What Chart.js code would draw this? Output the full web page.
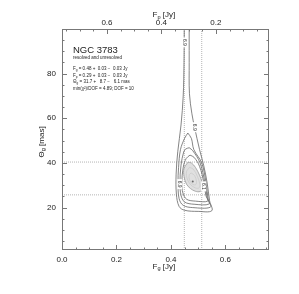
<!DOCTYPE html>
<html>
<head>
<meta charset="utf-8">
<script src="https://cdn.jsdelivr.net/npm/chart.js@4"></script>
<style>
  body { margin: 0; background: #fff; }
  canvas { display: block; }
</style>
</head>
<body>
<canvas id="myChart" width="299" height="294"></canvas>
<script>
// axis ranges and ticks
var fgRange = [0, 0.76];
var thetaRange = [1, 100];
var fpSum = 0.765;              // Fp = fpSum - Fg (top axis)
var fgTicks = [0, 0.2, 0.4, 0.6];
var fpTicks = [0.6, 0.4, 0.2];
var thetaTicks = [20, 40, 60, 80];

// best fit and error box lines
var bestFit = [[0.48, 31.7]];
var fgLines = [0.449, 0.513];
var thetaLines = [40.4, 25.7];

// chi2 contours [Fg, Theta]
var contourA = [[0.449, 106], [0.448, 85], [0.445, 70], [0.437, 57], [0.425, 45], [0.419, 35], [0.42, 26],
  [0.43, 20.5], [0.45, 18.8], [0.5, 18.3], [0.55, 18.6], [0.542, 23], [0.533, 31], [0.52, 39], [0.505, 46],
  [0.487, 55.8], [0.477, 62], [0.468, 71], [0.467, 85], [0.467, 106]];
var contourB = [[0.462, 53.4], [0.475, 51], [0.484, 46], [0.513, 40], [0.529, 31], [0.537, 23.5], [0.545, 20.2],
  [0.48, 20], [0.445, 21], [0.43, 24], [0.426, 31], [0.428, 38], [0.435, 46], [0.45, 51], [0.462, 53.4]];
var contourC = [[0.467, 46.8], [0.48, 45.5], [0.507, 40], [0.525, 31], [0.533, 24.5], [0.54, 21.6],
  [0.485, 21.5], [0.45, 22.5], [0.437, 25.5], [0.433, 31], [0.437, 39], [0.447, 45], [0.455, 46.3], [0.467, 46.8]];
var contourD = [[0.47, 43.5], [0.485, 42.5], [0.505, 38.5], [0.521, 31], [0.528, 25.5], [0.535, 22.9],
  [0.49, 22.9], [0.458, 23.7], [0.444, 26.5], [0.44, 31], [0.445, 38], [0.456, 42], [0.47, 43.5]];
var contourE = [[0.462, 40.3], [0.475, 40], [0.49, 38], [0.505, 34.5], [0.515, 31], [0.516, 28.5],
  [0.507, 27.2], [0.49, 27.3], [0.472, 28.5], [0.457, 30.5], [0.448, 34], [0.448, 37.5], [0.462, 40.3]];
var contourF = [[0.468, 38], [0.482, 37.2], [0.497, 34], [0.506, 30.5], [0.503, 28.8], [0.49, 28.8],
  [0.472, 30.3], [0.46, 32.8], [0.457, 36], [0.468, 38]];
var contourG = [[0.474, 35.5], [0.487, 34.3], [0.494, 31.5], [0.49, 30.2], [0.478, 30.6], [0.468, 32.5],
  [0.467, 34.7], [0.474, 35.5]];

// contour labels [Fg, Theta, text]
var contourLabels = [[0.448, 94, '6.9'], [0.487, 56, '6.9'], [0.432, 30.5, '6.9'], [0.52, 29.5, '6.1']];

var infoTitle = 'NGC 3783';
var infoLines = ['resolved and unresolved', 'F_g = 0.48 +  0.03 \u2212  0.03 Jy', 'F_p = 0.29 +  0.03 \u2212  0.03 Jy',
  '\u0398_g = 31.7 +   8.7 \u2212   6.1 mas', 'min(\u03c7\u00b2)/DOF = 4.89; DOF = 10'];

var FONT = 'Liberation Sans, Arial, sans-serif';

function pts(list) {
  return list.map(function (p) { return { x: p[0], y: p[1] }; });
}
function line(list, color, width, extra) {
  var ds = { data: pts(list), borderColor: color, borderWidth: width, pointRadius: 0, tension: 0.35, fill: false };
  for (var k in extra) ds[k] = extra[k];
  return ds;
}

var datasets = [
  { data: pts(bestFit), pointRadius: 1, pointBackgroundColor: '#666', borderWidth: 0, showLine: false },
  line(contourG, '#c4c4c4', 0.6),
  line(contourF, '#c4c4c4', 0.6),
  line(contourE, '#999', 0.8, { fill: 'shape', backgroundColor: '#e0e0e0' }),
  line(contourD, '#666', 0.8),
  line(contourC, '#666', 0.8),
  line(contourB, '#666', 0.8),
  line(contourA, '#666', 0.8)
];
fgLines.forEach(function (v) {
  datasets.push(line([[v, thetaRange[0]], [v, thetaRange[1]]], '#b4b4b4', 1, { borderDash: [1, 1], tension: 0 }));
});
thetaLines.forEach(function (v) {
  datasets.push(line([[fgRange[0], v], [fgRange[1], v]], '#b4b4b4', 1, { borderDash: [1, 1], tension: 0 }));
});

function subText(ctx, parts, x, y, size) {
  // '_' marks the next character as a subscript
  var cx = x;
  for (var i = 0; i < parts.length; i++) {
    var ch = parts[i];
    if (ch === '_') {
      ctx.font = (size * 0.7) + 'px ' + FONT;
      ctx.fillText(parts[i + 1], cx, y + size * 0.3);
      cx += ctx.measureText(parts[i + 1]).width;
      i++;
      ctx.font = size + 'px ' + FONT;
    } else {
      ctx.fillText(ch, cx, y);
      cx += ctx.measureText(ch).width;
    }
  }
  return cx - x;
}

var framePlugin = {
  id: 'frame',
  afterDraw: function (chart) {
    var ctx = chart.ctx, a = chart.chartArea;
    var xs = chart.scales.x, ys = chart.scales.y, x2 = chart.scales.x2;
    ctx.save();
    ctx.strokeStyle = '#777';
    ctx.lineWidth = 1;
    ctx.strokeRect(a.left + 0.5, a.top + 0.5, a.right - a.left - 1, a.bottom - a.top - 1);

    ctx.beginPath();
    // bottom / top x ticks
    for (var v = 0; v <= fgRange[1] + 1e-9; v += 0.05) {
      var px = Math.round(xs.getPixelForValue(v)) + 0.5;
      var len = (Math.abs(v / 0.2 - Math.round(v / 0.2)) < 1e-6) ? 5 : 2.5;
      ctx.moveTo(px, a.bottom); ctx.lineTo(px, a.bottom - len);
    }
    for (var w = 0.05; w <= fpSum; w += 0.05) {
      var px2 = Math.round(x2.getPixelForValue(w)) + 0.5;
      var len2 = (Math.abs(w / 0.2 - Math.round(w / 0.2)) < 1e-6) ? 5 : 2.5;
      ctx.moveTo(px2, a.top); ctx.lineTo(px2, a.top + len2);
    }
    // y ticks left and right
    for (var t = 5; t < thetaRange[1]; t += 5) {
      var py = Math.round(ys.getPixelForValue(t)) + 0.5;
      var len3 = (t % 20 === 0) ? 5 : 2.5;
      ctx.moveTo(a.left, py); ctx.lineTo(a.left + len3, py);
      ctx.moveTo(a.right, py); ctx.lineTo(a.right - len3, py);
    }
    ctx.stroke();

    ctx.fillStyle = '#222';
    ctx.font = '8px ' + FONT;
    ctx.textAlign = 'center';
    ctx.textBaseline = 'middle';
    fgTicks.forEach(function (v) {
      ctx.fillText(v.toFixed(1), xs.getPixelForValue(v), a.bottom + 9.5);
    });
    fpTicks.forEach(function (v) {
      ctx.fillText(v.toFixed(1), x2.getPixelForValue(v), a.top - 6);
    });
    ctx.textAlign = 'right';
    thetaTicks.forEach(function (v) {
      ctx.fillText(String(v), a.left - 6, ys.getPixelForValue(v));
    });

    // axis titles
    ctx.textAlign = 'left';
    ctx.font = '8px ' + FONT;
    var tw = 30;
    subText(ctx, 'F_g [Jy]', (a.left + a.right) / 2 - tw / 2 + 2, a.bottom + 16.5, 8);
    subText(ctx, 'F_p [Jy]', (a.left + a.right) / 2 - tw / 2 + 2, a.top - 14, 8);
    ctx.save();
    ctx.translate(41.5, (a.top + a.bottom) / 2 + 18);
    ctx.rotate(-Math.PI / 2);
    ctx.font = '8px ' + FONT;
    subText(ctx, '\u0398_g [mas]', 0, 0, 8);
    ctx.restore();

    // info text
    ctx.textBaseline = 'alphabetic';
    ctx.font = '9.5px ' + FONT;
    ctx.fillText(infoTitle, 73, 53);
    var ly = [58.5, 70, 76.5, 83, 89.5];
    infoLines.forEach(function (s, i) {
      ctx.font = '4.5px ' + FONT;
      subText(ctx, s, 73, ly[i], 4.5);
    });

    // contour labels
    ctx.textAlign = 'center';
    ctx.textBaseline = 'middle';
    contourLabels.forEach(function (l) {
      var px = xs.getPixelForValue(l[0]), py = ys.getPixelForValue(l[1]);
      ctx.save();
      ctx.translate(px, py);
      ctx.rotate(Math.PI / 2);
      ctx.fillStyle = '#fff';
      ctx.fillRect(-5, -2.5, 10, 5);
      ctx.fillStyle = '#333';
      ctx.font = '5px ' + FONT;
      ctx.fillText(l[2], 0, 0);
      ctx.restore();
    });
    ctx.restore();
  }
};

new Chart(document.getElementById('myChart').getContext('2d'), {
  type: 'line',
  data: { datasets: datasets },
  options: {
    responsive: false,
    animation: false,
    devicePixelRatio: 1,
    layout: { padding: { left: 62, right: 30, top: 29, bottom: 44 } },
    plugins: { legend: { display: false }, tooltip: { enabled: false } },
    scales: {
      x: { type: 'linear', min: fgRange[0], max: fgRange[1], display: false },
      x2: { type: 'linear', min: fpSum - fgRange[1], max: fpSum - fgRange[0], reverse: true, display: false },
      y: { type: 'linear', min: thetaRange[0], max: thetaRange[1], display: false }
    }
  },
  plugins: [framePlugin]
});
</script>
</body>
</html>
